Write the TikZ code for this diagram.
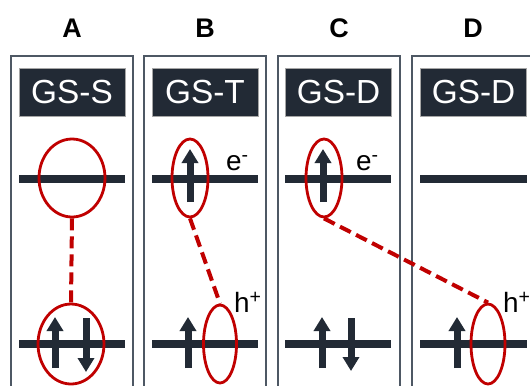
\documentclass[tikz,border=0pt]{standalone}
\usepackage{fontspec}
\setmainfont{Liberation Sans}
\usetikzlibrary{shapes.geometric,arrows.meta}
\definecolor{dk}{HTML}{222A35}
\definecolor{rd}{HTML}{C00000}
\definecolor{bx}{HTML}{4E5864}
\tikzset{
  panel/.style={draw=bx, line width=1.4bp},
  hdr/.style={fill=dk, draw=gray!70, line width=0.5bp, minimum width=106bp, minimum height=48bp, text=white, font=\fontsize{33.5}{33.5}\selectfont, inner sep=0pt},
  lvl/.style={line width=8bp, draw=dk},
  orb/.style={ellipse, draw=rd, line width=2.8bp, inner sep=0pt},
  link/.style={draw=rd, line width=4bp, dash pattern=on 12bp off 6bp},
  spin/.style={line width=7bp, draw=dk, -{Triangle[width=16bp,length=14bp]}},
  lbl/.style={font=\bfseries\fontsize{27}{27}\selectfont, inner sep=0pt},
  chg/.style={font=\fontsize{28}{28}\selectfont, inner sep=0pt, anchor=base west},
}
\begin{document}
\begin{tikzpicture}[x=1bp,y=-1bp]
\useasboundingbox (0,0) rectangle (530,385);
\clip (0,0) rectangle (530,385);
\fill[white] (0,0) rectangle (530,385);
% panel labels
\node[lbl] (la) at (72,28) {A};
\node[lbl] (lb) at (205,28) {B};
\node[lbl] (lc) at (339,28) {C};
\node[lbl] (ld) at (473,28) {D};
% panels
\draw[panel] (11,56) rectangle (133,400);
\draw[panel] (144,56) rectangle (266,400);
\draw[panel] (278,56) rectangle (400,400);
\draw[panel] (412,56) rectangle (534,400);
% headers
\node[hdr] (ha) at (72,92) {GS-S};
\node[hdr] (hb) at (205,92) {GS-T};
\node[hdr] (hc) at (338.5,92) {GS-D};
\node[hdr] (hd) at (473.5,92) {GS-D};
% levels
\draw[lvl] (19,179) -- (125,179);
\draw[lvl] (152,179) -- (258,179);
\draw[lvl] (285,179) -- (391,179);
\draw[lvl] (420,179) -- (527,179);
\draw[lvl] (19,344) -- (125,344);
\draw[lvl] (152,344) -- (258,344);
\draw[lvl] (285,344) -- (391,344);
\draw[lvl] (420,344) -- (527,344);
% spins
\draw[spin] (55,368) -- (55,317);
\draw[spin] (86,318) -- (86,372);
\draw[spin] (190,202) -- (190,149);
\draw[spin] (188,368) -- (188,317);
\draw[spin] (323,202) -- (323,149);
\draw[spin] (322,368) -- (322,317);
\draw[spin] (351,318) -- (351,371);
\draw[spin] (457,368) -- (457,317);
% orbitals
\node[orb, minimum width=66bp, minimum height=78bp] (ea1) at (72,178) {};
\node[orb, minimum width=66bp, minimum height=80bp] (ea2) at (71,344) {};
\node[orb, minimum width=36bp, minimum height=78bp] (eb1) at (190,178) {};
\node[orb, minimum width=33bp, minimum height=78bp] (eb2) at (220,344) {};
\node[orb, minimum width=36bp, minimum height=78bp] (ec1) at (324,178) {};
\node[orb, minimum width=34bp, minimum height=80bp] (ed2) at (488,344) {};
% links
\draw[link] (ea1.south) -- (ea2.north);
\draw[link] (eb1.south) -- (eb2.north);
\draw[link] (ec1.south) -- (ed2.north);
% charges
\node[chg] (eb) at (226,170) {e\textsuperscript{-}};
\node[chg] (ec) at (356,170) {e\textsuperscript{-}};
\node[chg] (hB) at (234,312) {h\textsuperscript{+}};
\node[chg] (hD) at (503,312) {h\textsuperscript{+}};
\end{tikzpicture}
\end{document}
